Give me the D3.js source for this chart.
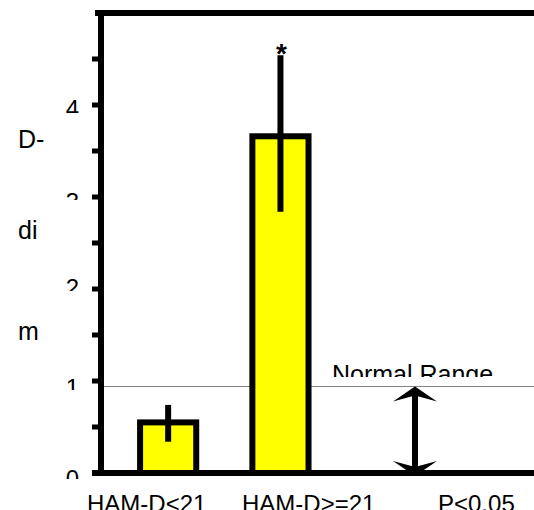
<!doctype html>
<html lang="en">
<head>
    <meta charset="utf-8">
    <title>HAM-D chart</title>
    <script src="https://d3js.org/d3.v7.min.js"></script>
    <style>
        body { margin: 0; background: #fff; }
        svg text {
            font-family: "Liberation Sans", Arial, sans-serif;
            font-size: 24px;
            fill: #000;
        }
    </style>
</head>
<body>
<div id="chart"></div>
<script>
    // Chart data
    var categories  = ["HAM-D<21", "HAM-D>=21"];
    var means       = [0.55, 3.66];
    var errLow      = [0.34, 2.84];
    var errHigh     = [0.74, 4.54];
    var signif      = ["", "*"];
    var normalUpper = 0.94;
    var xLabels     = ["HAM-D<21", "HAM-D>=21", "P<0.05"];
    var yTickValues = [0, 1, 2, 3, 4];
    var yTickMarks  = [0, 0.5, 1, 1.5, 2, 2.5, 3, 3.5, 4, 4.5];
    var yTitleBits  = ["D-", "di", "m"];
    var normalLabel = "Normal Range";

    // Layout
    var width = 534, height = 510;
    var xLabelX      = [87, 242, 438];      // left edge of each category label
    var tickLabelDy  = [-3, -2, -10, -4, -5]; // top of each tick label relative to tick
    var tickLabelVis = [9, 11, 12, 7, 13];    // visible height of each tick label
    var titleBitsY   = [148, 239, 340];
    var arrowX       = 415;

    var svg = d3.select("#chart")
        .append("svg")
        .attr("width", width)
        .attr("height", height);

    var defs = svg.append("defs");

    // Scales
    var y = d3.scaleLinear().domain([0, 5]).range([473, 13]);
    var x = d3.scaleBand().domain(categories).range([112, 336.6])
        .paddingInner(0.5).paddingOuter(0.25);

    // Normal range line
    svg.append("line")
        .attr("x1", 104).attr("x2", width)
        .attr("y1", y(normalUpper)).attr("y2", y(normalUpper))
        .attr("stroke", "#808080")
        .attr("stroke-width", 1);

    // Bars
    svg.selectAll("rect.bar")
        .data(means)
        .enter()
        .append("rect")
        .attr("class", "bar")
        .attr("x", function(d, i) { return x(categories[i]); })
        .attr("y", function(d) { return y(d); })
        .attr("width", x.bandwidth())
        .attr("height", function(d) { return y(0) - y(d); })
        .attr("fill", "#ffff00")
        .attr("stroke", "#000")
        .attr("stroke-width", 6);

    // Error bars
    svg.selectAll("line.err")
        .data(means)
        .enter()
        .append("line")
        .attr("class", "err")
        .attr("x1", function(d, i) { return x(categories[i]) + x.bandwidth() / 2; })
        .attr("x2", function(d, i) { return x(categories[i]) + x.bandwidth() / 2; })
        .attr("y1", function(d, i) { return y(errHigh[i]); })
        .attr("y2", function(d, i) { return y(errLow[i]); })
        .attr("stroke", "#000")
        .attr("stroke-width", 6);

    // Significance star
    svg.selectAll("text.sig")
        .data(signif)
        .enter()
        .append("text")
        .attr("class", "sig")
        .attr("x", function(d, i) { return x(categories[i]) + x.bandwidth() / 2 + 1; })
        .attr("y", function(d, i) { return y(errHigh[i]) + 8; })
        .attr("text-anchor", "middle")
        .style("font-weight", "bold")
        .style("font-size", "28px")
        .text(function(d) { return d; });

    // Frame lines
    svg.append("line")
        .attr("x1", 95).attr("x2", width)
        .attr("y1", y(5)).attr("y2", y(5))
        .attr("stroke", "#000").attr("stroke-width", 6);
    svg.append("line")
        .attr("x1", 92).attr("x2", width)
        .attr("y1", y(0)).attr("y2", y(0))
        .attr("stroke", "#000").attr("stroke-width", 6);
    svg.append("line")
        .attr("x1", 101).attr("x2", 101)
        .attr("y1", y(5) - 3).attr("y2", y(0) + 3)
        .attr("stroke", "#000").attr("stroke-width", 6);

    // Tick marks
    svg.selectAll("rect.tick")
        .data(yTickMarks)
        .enter()
        .append("rect")
        .attr("class", "tick")
        .attr("x", 92)
        .attr("y", function(d) { return y(d) - 2.5; })
        .attr("width", 8)
        .attr("height", 5)
        .attr("fill", "#000");

    // Tick labels, cut off like the original text boxes
    yTickValues.forEach(function(v, i) {
        var top = y(v) + tickLabelDy[i];
        defs.append("clipPath")
            .attr("id", "tclip" + i)
            .append("rect")
            .attr("x", 40).attr("y", top - 2)
            .attr("width", 50).attr("height", tickLabelVis[i] + 2);
        svg.append("text")
            .attr("x", 79)
            .attr("y", top + 17.2)
            .attr("text-anchor", "end")
            .attr("clip-path", "url(#tclip" + i + ")")
            .text(v);
    });

    // Pieces of the y axis title
    svg.selectAll("text.ytitle")
        .data(yTitleBits)
        .enter()
        .append("text")
        .attr("class", "ytitle")
        .attr("x", 18)
        .attr("y", function(d, i) { return titleBitsY[i]; })
        .style("font-size", "25px")
        .text(function(d) { return d; });

    // Category labels
    svg.selectAll("text.xlab")
        .data(xLabels)
        .enter()
        .append("text")
        .attr("class", "xlab")
        .attr("x", function(d, i) { return xLabelX[i]; })
        .attr("y", 512)
        .text(function(d) { return d; });

    // Normal range label and arrow
    defs.append("clipPath")
        .attr("id", "nclip")
        .append("rect")
        .attr("x", 300).attr("y", 350)
        .attr("width", 234).attr("height", 27);
    svg.append("text")
        .attr("x", 332)
        .attr("y", 383)
        .attr("clip-path", "url(#nclip)")
        .style("font-size", "25px")
        .text(normalLabel);

    var topTip = y(normalUpper), botTip = y(0) + 3;
    svg.append("line")
        .attr("x1", arrowX).attr("x2", arrowX)
        .attr("y1", topTip + 8).attr("y2", botTip - 8)
        .attr("stroke", "#000").attr("stroke-width", 6);
    svg.append("path")
        .attr("d", "M0,0 L22,15 L0,9 L-22,15 Z")
        .attr("transform", "translate(" + arrowX + "," + topTip + ")")
        .attr("fill", "#000");
    svg.append("path")
        .attr("d", "M0,0 L22,-15 L0,-9 L-22,-15 Z")
        .attr("transform", "translate(" + arrowX + "," + botTip + ")")
        .attr("fill", "#000");
</script>
</body>
</html>
